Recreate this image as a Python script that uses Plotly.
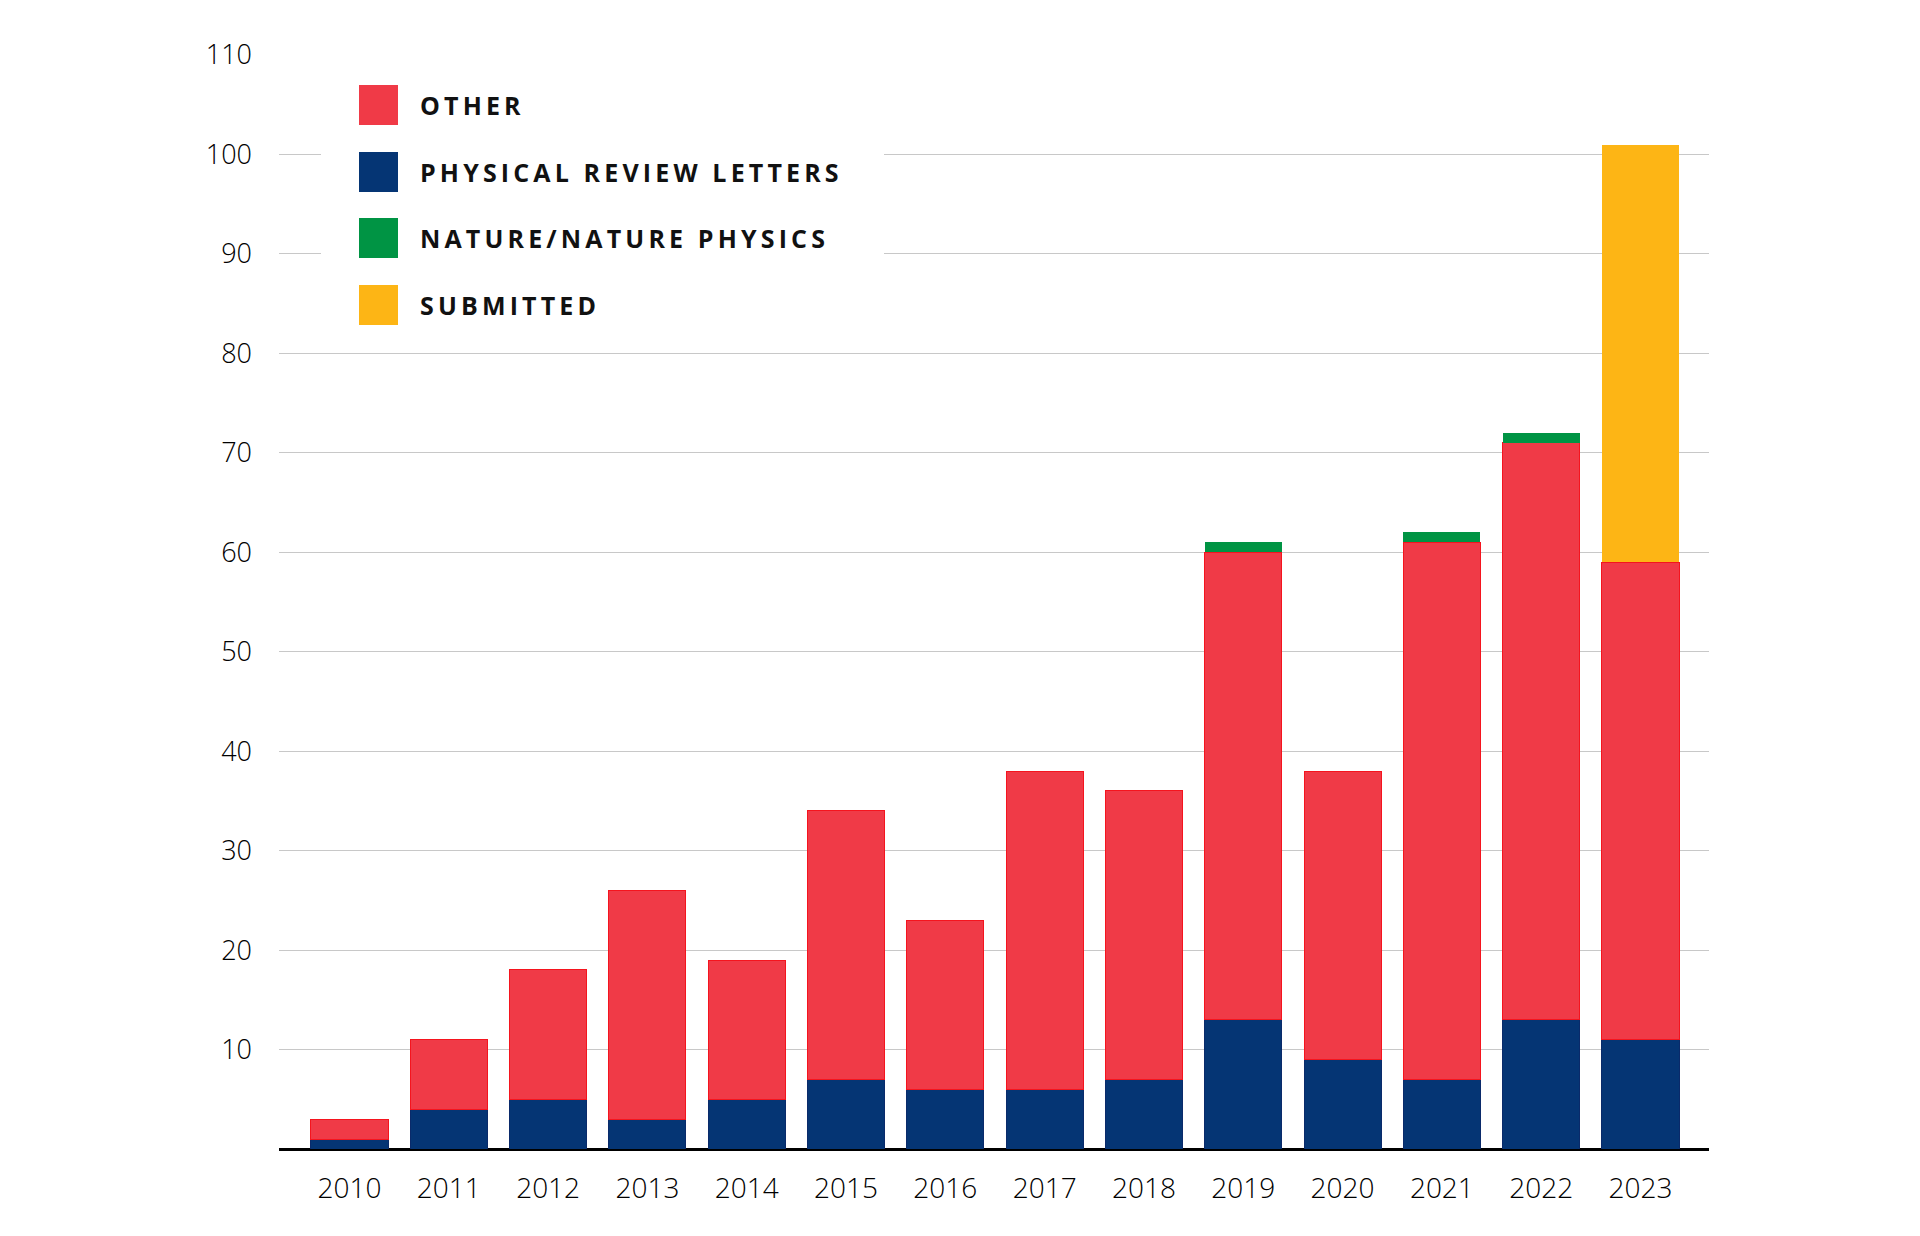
import plotly.graph_objects as go

years = ["2010", "2011", "2012", "2013", "2014", "2015", "2016",
         "2017", "2018", "2019", "2020", "2021", "2022", "2023"]
prl = [1, 4, 5, 3, 5, 7, 6, 6, 7, 13, 9, 7, 13, 11]
other = [2, 7, 13, 23, 14, 27, 17, 32, 29, 47, 29, 54, 58, 48]
nature = [0, 0, 0, 0, 0, 0, 0, 0, 0, 1, 0, 1, 1, 0]
submitted = [0, 0, 0, 0, 0, 0, 0, 0, 0, 0, 0, 0, 0, 42]

y_ticks = [10, 20, 30, 40, 50, 60, 70, 80, 90, 100, 110]

legend_names = ["OTHER", "PHYSICAL REVIEW LETTERS", "NATURE/NATURE PHYSICS", "SUBMITTED"]

C_OTHER = "#F03A47"
C_PRL = "#053574"
C_NAT = "#009444"
C_SUB = "#FDB515"
legend_colors = [C_OTHER, C_PRL, C_NAT, C_SUB]

fig = go.Figure()
series = [
    ("Physical Review Letters", prl, C_PRL, "#0a2a6a", 1),
    ("Other", other, C_OTHER, "#f5141e", 1),
    ("Nature/Nature Physics", nature, C_NAT, "#0a8a40", 0),
    ("Submitted", submitted, C_SUB, "#f5b020", 0),
]
for name, vals, col, lcol, lw in series:
    fig.add_trace(go.Bar(
        x=years, y=vals, name=name,
        marker=dict(color=col, line=dict(color=lcol, width=lw)),
        showlegend=False,
    ))

FONT = "Open Sans"

# page offset (browser body margin) compensation
OFF = 8
PL, PT, PW, PH = 279, 55, 1430, 1094  # plot area in screen coords
PB = PT + PH


def px(x):
    return (x - PL) / PW


def py(y):
    return (PB - y) / PH


def spaced(s):
    return "\u2009".join(list(s))


# custom legend (white box + swatches + letter-spaced labels)
shapes = [dict(type="rect", xref="paper", yref="paper",
               x0=px(321), x1=px(884), y0=py(330), y1=py(62),
               fillcolor="white", line=dict(width=0), layer="above")]
annotations = []
row_y = [105, 172, 238, 305]
for name, col, yc in zip(legend_names, legend_colors, row_y):
    shapes.append(dict(type="rect", xref="paper", yref="paper",
                       x0=px(359), x1=px(398), y0=py(yc + 20), y1=py(yc - 20),
                       fillcolor=col, line=dict(width=0), layer="above"))
    annotations.append(dict(xref="paper", yref="paper",
                            x=px(418), y=py(yc),
                            xanchor="left", yanchor="middle",
                            text="<b>" + spaced(name) + "</b>", showarrow=False,
                            font=dict(family=FONT, size=25, color="#111111")))

fig.update_layout(
    barmode="stack",
    bargap=0.224,
    width=1920, height=1236,
    margin=dict(l=PL - OFF, r=1920 - (PL + PW) + OFF, t=PT - OFF,
                b=1236 - PB + OFF),
    paper_bgcolor="white", plot_bgcolor="white",
    font=dict(family=FONT, size=27, color="#000000"),
    shapes=shapes, annotations=annotations,
    showlegend=False,
)
fig.update_xaxes(
    type="category", range=[-0.71, 13.69],
    showgrid=False, showline=False, ticks="",
    tickfont=dict(family=FONT, size=28, color="#000000", weight=300),
    ticklabelstandoff=20,
)
fig.update_yaxes(
    range=[0, 110], tickvals=y_ticks,
    showgrid=True, gridcolor="#c8c8c8", gridwidth=1.2,
    zeroline=True, zerolinecolor="#000000", zerolinewidth=2.5,
    showline=False, ticks="",
    tickfont=dict(family=FONT, size=27, color="#000000", weight=300),
    ticklabelstandoff=26,
)

fig.write_html("out.html")
